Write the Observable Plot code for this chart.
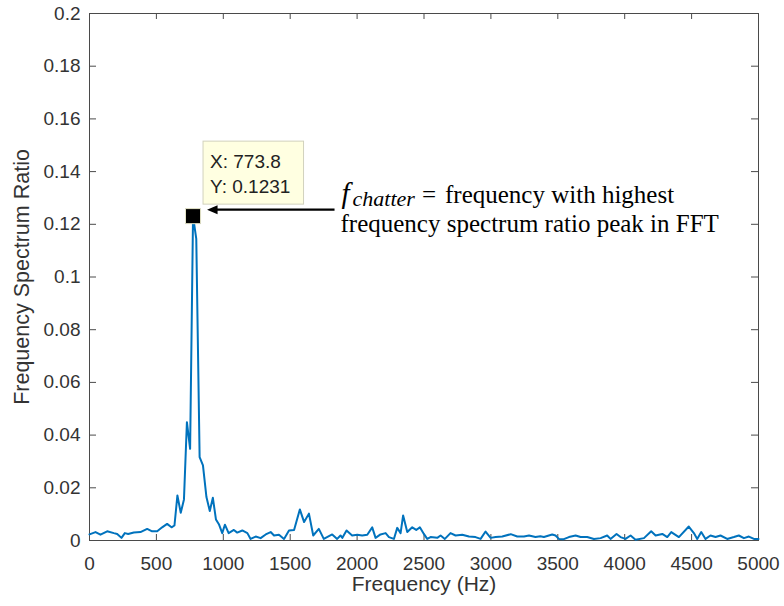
<!DOCTYPE html>
<html>
<head>
<meta charset="utf-8">
<script src="https://cdn.jsdelivr.net/npm/d3@7"></script>
<script src="https://cdn.jsdelivr.net/npm/@observablehq/plot@0.6"></script>
<style>
  html, body { margin: 0; padding: 0; background: #fff; }
  #chart svg { display: block; }
</style>
</head>
<body>
<div id="chart"></div>
<script>
// ---- data ----
const freqs = [
  0, 45, 82, 132, 182, 207, 239, 264, 289, 331, 381, 431, 468, 506, 543, 580, 613, 635,
  657, 682, 706, 728, 752, 773.8, 798, 823, 848, 874, 899, 922, 945, 967, 992,
  1012, 1040, 1079, 1104, 1142, 1180, 1204, 1242, 1279, 1317, 1354, 1379, 1416, 1454, 1491,
  1529, 1572, 1604, 1640, 1672, 1714, 1751, 1814, 1851, 1876, 1890, 1921, 1963,
  2001, 2038, 2076, 2113, 2138, 2175, 2213, 2238, 2275, 2300, 2325, 2344, 2375, 2412, 2442,
  2469, 2499, 2524, 2549, 2599, 2624, 2656, 2698, 2736, 2786, 2836, 2885, 2923, 2960,
  2998, 3035, 3085, 3148, 3197, 3247, 3285, 3333, 3370, 3396, 3458, 3483, 3508, 3545,
  3583, 3633, 3670, 3720, 3770, 3820, 3869, 3894, 3939, 3969, 4006, 4044, 4081, 4144,
  4198, 4231, 4281, 4318, 4348, 4405, 4479, 4517, 4542, 4572, 4604, 4641, 4679, 4716,
  4766, 4816, 4853, 4891, 4928, 4966, 5000
];
const ratios = [
  0.0023, 0.0032, 0.0022, 0.0035, 0.0028, 0.0025, 0.0010, 0.0028, 0.0025, 0.0030, 0.0032, 0.0044, 0.0035, 0.0035, 0.0050, 0.0063, 0.0050, 0.0057,
  0.0171, 0.0105, 0.0156, 0.0449, 0.0348, 0.1231, 0.1145, 0.0316, 0.0285, 0.0165, 0.0112, 0.0162, 0.0080, 0.0062, 0.0028,
  0.0060, 0.0028, 0.0040, 0.0030, 0.0038, 0.0028, 0.0006, 0.0015, 0.0009, 0.0023, 0.0032, 0.0019, 0.0022, 0.0006, 0.0038,
  0.0040, 0.0118, 0.0070, 0.0102, 0.0019, 0.0044, 0.0006, 0.0023, 0.0006, 0.0019, 0.0010, 0.0038, 0.0019,
  0.0022, 0.0019, 0.0022, 0.0050, 0.0010, 0.0023, 0.0028, 0.0013, 0.0006, 0.0048, 0.0028, 0.0095, 0.0032, 0.0050, 0.0040,
  0.0050, 0.0025, 0.0006, 0.0013, 0.0010, 0.0019, 0.0006, 0.0028, 0.0019, 0.0022, 0.0015, 0.0013, 0.0006, 0.0034,
  0.0010, 0.0013, 0.0015, 0.0024, 0.0015, 0.0015, 0.0019, 0.0013, 0.0016, 0.0013, 0.0023, 0.0019, 0.0006, 0.0005,
  0.0013, 0.0019, 0.0013, 0.0013, 0.0006, 0.0009, 0.0019, 0.0006, 0.0025, 0.0013, 0.0006, 0.0019, 0.0003, 0.0009,
  0.0035, 0.0019, 0.0025, 0.0013, 0.0032, 0.0013, 0.0053, 0.0028, 0.0006, 0.0032, 0.0006, 0.0019, 0.0013, 0.0019,
  0.0006, 0.0013, 0.0019, 0.0009, 0.0015, 0.0006, 0.0006
];
const xTicks = [0, 500, 1000, 1500, 2000, 2500, 3000, 3500, 4000, 4500, 5000];
const yTicks = [0, 0.02, 0.04, 0.06, 0.08, 0.1, 0.12, 0.14, 0.16, 0.18, 0.2];
const peakX = 773.8;
const peakY = 0.1231;
const xLabel = "Frequency (Hz)";
const yLabel = "Frequency Spectrum Ratio";
const noteLine1 = "frequency with highest";
const noteLine2 = "frequency spectrum ratio peak in FFT";

// ---- build ----
const spectrum = freqs.map((f, i) => ({f, r: ratios[i]}));
const axisColor = "#4a4a4a";
const textColor = "#333333";
const sans = "'Liberation Sans', Arial, Helvetica, sans-serif";
const serif = "'Liberation Serif', 'Times New Roman', serif";

function annotation(index, scales) {
  const px = scales.x(peakX), py = scales.y(peakY);
  const g = d3.create("svg:g").attr("text-anchor", "start");
  // data tip box
  g.append("rect")
    .attr("x", px + 10.5).attr("y", py - 74.5)
    .attr("width", 100.5).attr("height", 63)
    .attr("fill", "#ffffe1").attr("stroke", "#d2d2bd").attr("stroke-width", 1);
  const tip = g.append("text").attr("font-family", sans).attr("font-size", 19).attr("fill", "#222")
    .attr("text-anchor", "start");
  tip.append("tspan").attr("x", px + 17.5).attr("y", py - 47.5).text("X: " + peakX);
  tip.append("tspan").attr("x", px + 17.5).attr("y", py - 22.5).text("Y: " + peakY);
  // arrow
  g.append("line")
    .attr("x1", px + 22).attr("y1", py - 6)
    .attr("x2", px + 142).attr("y2", py - 6)
    .attr("stroke", "#000").attr("stroke-width", 2.2);
  g.append("path")
    .attr("d", `M${px + 14.5},${py - 6} L${px + 25},${py - 10.5} L${px + 25},${py - 1.5} Z`)
    .attr("fill", "#000");
  // note text
  const t1 = g.append("text").attr("font-family", serif).attr("fill", "#000")
    .attr("text-anchor", "start")
    .attr("x", px + 149).attr("y", py - 12.6);
  t1.append("tspan").attr("font-style", "italic").attr("font-size", 29).text("f");
  t1.append("tspan").attr("font-style", "italic").attr("font-size", 22).attr("dx", 3).attr("dy", 3).text("chatter");
  t1.append("tspan").attr("font-size", 25).attr("dx", 7).attr("dy", -3).text("=");
  t1.append("tspan").attr("font-size", 25).attr("dx", 9).text(noteLine1);
  g.append("text").attr("font-family", serif).attr("font-size", 25).attr("fill", "#000")
    .attr("text-anchor", "start")
    .attr("x", px + 148).attr("y", py + 16).text(noteLine2);
  return g.node();
}

const chart = Plot.plot({
  width: 784,
  height: 606,
  marginLeft: 89,
  marginRight: 26,
  marginTop: 13,
  marginBottom: 66,
  style: { fontFamily: sans, fontSize: "19px", color: textColor, background: "#fff" },
  x: { domain: [0, 5000] },
  y: { domain: [0, 0.2] },
  marks: [
    Plot.frame({ stroke: axisColor, strokeWidth: 1 }),
    // inward ticks (bottom, top, left, right)
    Plot.tickX(xTicks, { x: d => d, stroke: axisColor, insetTop: 521 }),
    Plot.tickX(xTicks, { x: d => d, stroke: axisColor, insetBottom: 521 }),
    Plot.tickY(yTicks, { y: d => d, stroke: axisColor, insetRight: 662 }),
    Plot.tickY(yTicks, { y: d => d, stroke: axisColor, insetLeft: 662 }),
    Plot.axisX({ ticks: xTicks, tickSize: 0, tickPadding: 16, tickFormat: d => String(d), label: null, fill: textColor, fontSize: 19 }),
    Plot.axisY({ ticks: yTicks, tickSize: 0, tickPadding: 9, tickFormat: d => String(+d.toFixed(2)), label: null, fill: textColor, fontSize: 19 }),
    Plot.text([xLabel], { text: d => d, frameAnchor: "bottom", dy: 44, lineAnchor: "middle", textAnchor: "middle", fontSize: 21, fill: textColor }),
    Plot.text([yLabel], { text: d => d, frameAnchor: "left", dx: -67, rotate: -90, lineAnchor: "middle", textAnchor: "middle", fontSize: 21.5, fill: textColor }),
    Plot.line(spectrum, { x: "f", y: "r", stroke: "#0072BD", strokeWidth: 2, strokeLinejoin: "round" }),
    Plot.dot([{f: peakX, r: peakY}], { x: "f", y: "r", symbol: "square", r: 8.5, fill: "#000", stroke: "#e4e4c8", strokeWidth: 1 }),
    annotation
  ]
});
document.getElementById("chart").appendChild(chart);
</script>
</body>
</html>
